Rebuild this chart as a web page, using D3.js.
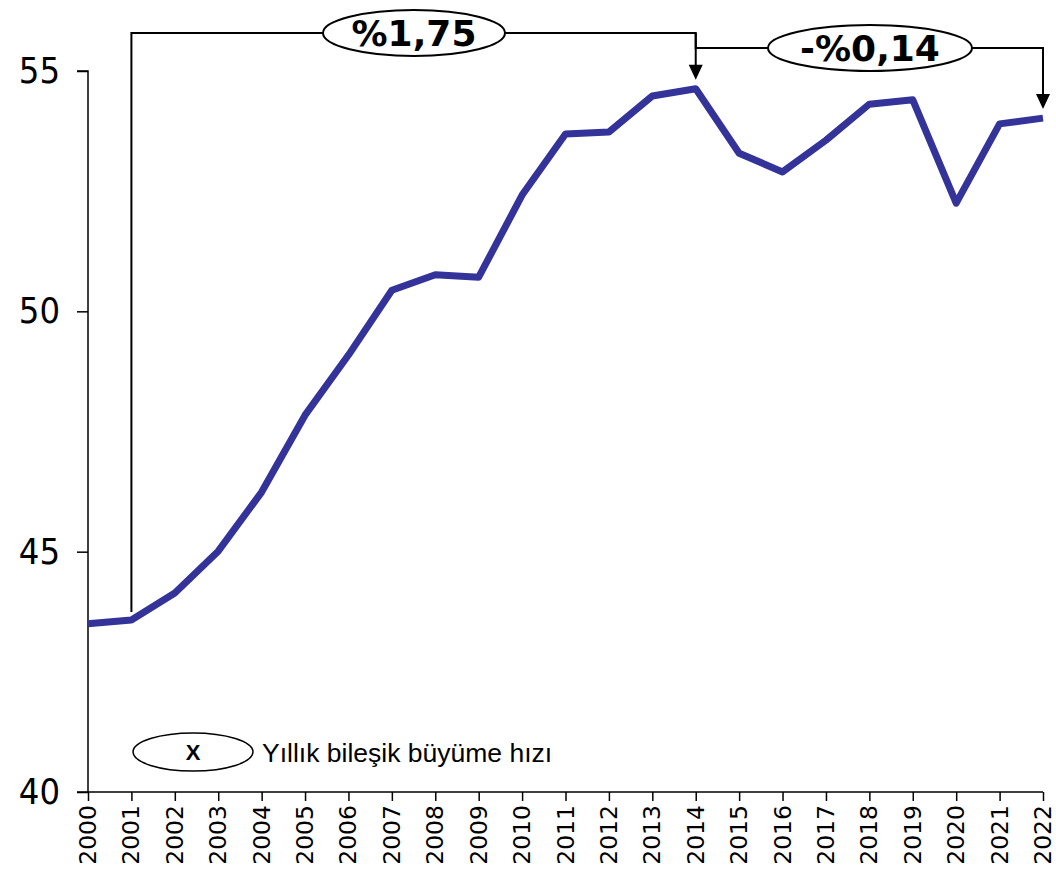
<!DOCTYPE html>
<html><head><meta charset="utf-8">
<script src="https://cdn.jsdelivr.net/npm/d3@7/dist/d3.min.js"></script>
<style>body{margin:0;background:#fff}svg{display:block}</style>
</head><body>
<svg id="chart" width="1056" height="874"></svg>
<script>
const years = [2000,2001,2002,2003,2004,2005,2006,2007,2008,2009,2010,2011,2012,2013,2014,2015,2016,2017,2018,2019,2020,2021,2022];
const values = [43.50,43.58,44.14,45.01,46.24,47.84,49.09,50.44,50.76,50.71,52.42,53.69,53.73,54.48,54.63,53.29,52.90,53.56,54.31,54.40,52.25,53.90,54.02];
const yTicks = [40,45,50,55];
const annFrom = [2001, 2014];
const annTo = [2014, 2022];
const annLabels = ["%1,75", "-%0,14"];
const legendSymbol = "X";
const legendText = "Yıllık bileşik büyüme hızı";

const svg = d3.select("#chart");
const x = d3.scalePoint().domain(years).range([88, 1043]);
const y = d3.scaleLinear().domain([40, 55]).range([792, 71]);

// Y axis
const yAxis = d3.axisLeft(y).tickValues(yTicks).tickSize(11).tickPadding(17);
const gy = svg.append("g").attr("transform", "translate(88,0)").call(yAxis);
gy.select(".domain").attr("stroke", "#000").attr("stroke-width", 1.5).attr("d", `M-11,${y(55)}H0V${y(40)}`);
gy.selectAll(".tick line").attr("stroke", "#000").attr("stroke-width", 1.5);
gy.selectAll(".tick text").attr("font-family", "'DejaVu Sans Condensed','DejaVu Sans',sans-serif")
  .attr("font-size", 36).attr("fill", "#000");

// X axis
const xAxis = d3.axisBottom(x).tickSize(9).tickPadding(7);
const gx = svg.append("g").attr("transform", `translate(0,${y(40)})`).call(xAxis);
gx.select(".domain").attr("stroke", "#000").attr("stroke-width", 1.5).attr("d", `M77,0H1043`);
gx.selectAll(".tick line").attr("stroke", "#000").attr("stroke-width", 1.5);
gx.selectAll(".tick text")
  .attr("font-family", "'DejaVu Sans',sans-serif").attr("font-size", 23.5).attr("fill", "#000")
  .attr("transform", "rotate(-90)").attr("text-anchor", "end").attr("dy", "0.32em")
  .attr("x", -13).attr("y", 0);

// Line
const line = d3.line().x((d,i) => x(years[i])).y(d => y(d));
svg.append("path").datum(values).attr("d", line)
  .attr("fill", "none").attr("stroke", "#333399").attr("stroke-width", 7)
  .attr("stroke-linejoin", "round").attr("stroke-linecap", "butt");

// Annotations
const valOf = yr => values[years.indexOf(yr)];
const levels = [33, 48];
const ell = [{cx: 414, rx: 91}, {cx: 870, rx: 102}];
annFrom.forEach((f, i) => {
  const t = annTo[i];
  const x0 = x(f), x1 = x(t), ly = levels[i];
  const startY = i === 0 ? y(valOf(f)) - 8 : levels[0];
  const tipY = y(valOf(t)) - 9;
  svg.append("path")
    .attr("d", `M${x0},${startY}V${ly}H${x1}V${tipY - 14}`)
    .attr("fill", "none").attr("stroke", "#000").attr("stroke-width", 2);
  svg.append("path")
    .attr("d", `M${x1 - 7},${tipY - 15}L${x1 + 7},${tipY - 15}L${x1},${tipY}Z`)
    .attr("fill", "#000");
  svg.append("ellipse").attr("cx", ell[i].cx).attr("cy", ly).attr("rx", ell[i].rx).attr("ry", 23)
    .attr("fill", "#fff").attr("stroke", "#000").attr("stroke-width", 2);
  svg.append("text").attr("x", ell[i].cx).attr("y", ly).attr("dy", "0.36em")
    .attr("text-anchor", "middle").attr("font-family", "'DejaVu Sans',sans-serif")
    .attr("font-weight", "bold").attr("font-size", 36).attr("fill", "#000")
    .text(annLabels[i]);
});

// Legend
svg.append("ellipse").attr("cx", 193).attr("cy", 752).attr("rx", 60).attr("ry", 19)
  .attr("fill", "#fff").attr("stroke", "#000").attr("stroke-width", 1.5);
svg.append("text").attr("x", 193).attr("y", 752).attr("dy", "0.36em").attr("text-anchor", "middle")
  .attr("font-family", "'Liberation Sans',Arial,sans-serif").attr("font-weight", "bold")
  .attr("font-size", 22).text(legendSymbol);
svg.append("text").attr("x", 262).attr("y", 752).attr("dy", "0.36em")
  .attr("font-family", "'Liberation Sans',Arial,sans-serif").attr("font-size", 26.5)
  .text(legendText);
</script>
</body></html>
